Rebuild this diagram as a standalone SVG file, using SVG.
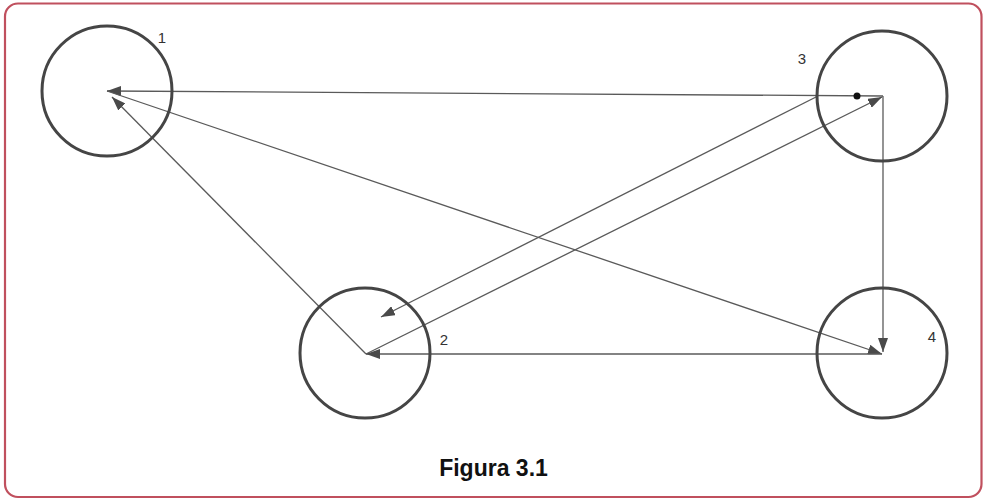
<svg xmlns="http://www.w3.org/2000/svg" width="984" height="499" viewBox="0 0 984 499">
<style>
.node circle{fill:none;stroke:#454545;stroke-width:3}
.lbl{font-family:"Liberation Sans",Arial,sans-serif;font-size:15px;fill:#333}
.edge{fill:none;stroke:#5a5a5a;stroke-width:1.3}
.title{font-family:"Liberation Sans",Arial,sans-serif;font-size:23px;font-weight:bold;fill:#111}
</style>
<defs>
<marker id="arr" viewBox="0 0 14 10" refX="14" refY="5" markerWidth="14" markerHeight="10" markerUnits="userSpaceOnUse" orient="auto">
<path d="M0,0 L14,5 L0,10 z" fill="#4a4a4a"/>
</marker>
</defs>
<rect x="5" y="3.5" width="976.5" height="493.5" rx="13" fill="#fff" stroke="#c0505e" stroke-width="2.2"/>
<g id="connectors">
<line class="edge" x1="883" y1="96" x2="107" y2="91" marker-end="url(#arr)"/>
<line class="edge" x1="366" y1="354" x2="112" y2="97" marker-end="url(#arr)"/>
<line class="edge" x1="107" y1="91" x2="882" y2="354" marker-end="url(#arr)"/>
<line class="edge" x1="818" y1="96" x2="381" y2="317" marker-end="url(#arr)"/>
<line class="edge" x1="366" y1="354" x2="882" y2="97" marker-end="url(#arr)"/>
<line class="edge" x1="883" y1="96" x2="883" y2="352" marker-end="url(#arr)"/>
<line class="edge" x1="882" y1="354" x2="366" y2="354" marker-end="url(#arr)"/>
<circle cx="857" cy="96" r="3.5" fill="#111"/>
</g>
<g id="node1" class="node"><circle cx="107" cy="91" r="65"/><text class="lbl" x="162" y="43" text-anchor="middle">1</text></g>
<g id="node2" class="node"><circle cx="365" cy="353" r="65"/><text class="lbl" x="444" y="345" text-anchor="middle">2</text></g>
<g id="node3" class="node"><circle cx="882" cy="96" r="65"/><text class="lbl" x="802" y="64" text-anchor="middle">3</text></g>
<g id="node4" class="node"><circle cx="882" cy="353" r="65"/><text class="lbl" x="932" y="342" text-anchor="middle">4</text></g>
<text class="title" x="493.5" y="476" text-anchor="middle">Figura 3.1</text>
</svg>
